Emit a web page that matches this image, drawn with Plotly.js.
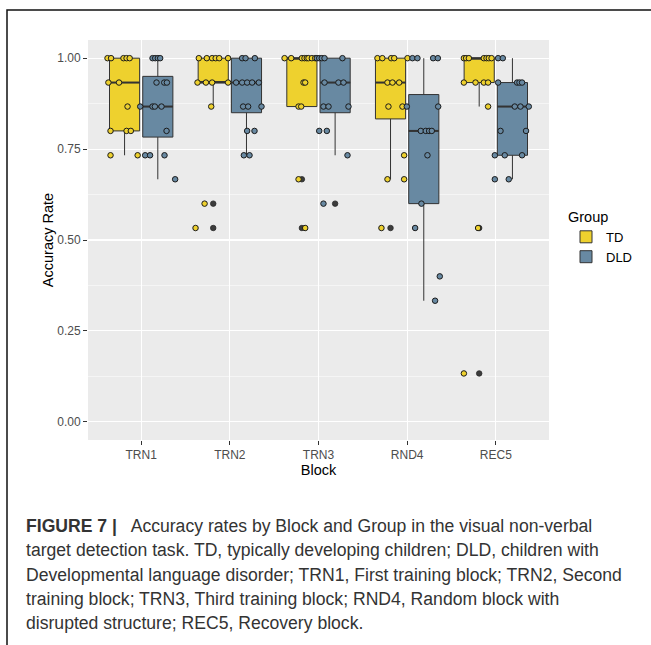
<!DOCTYPE html>
<html>
<head>
<meta charset="utf-8">
<script src="https://cdn.plot.ly/plotly-3.0.1.min.js"></script>
<style>
html,body{margin:0;padding:0;background:#fff;}
#chart{width:651px;height:645px;}
</style>
</head>
<body>
<div id="chart"></div>
<script>
// ---------- DATA ----------
var blocks = ['TRN1', 'TRN2', 'TRN3', 'RND4', 'REC5'];
var groups = ['TD', 'DLD'];

// box statistics per block
var tdQ1     = [0.800, 0.933, 0.867, 0.833, 0.933];
var tdMedian = [0.933, 0.933, 1.000, 0.933, 1.000];
var tdQ3     = [1.000, 1.000, 1.000, 1.000, 1.000];
var tdLow    = [0.733, 0.867, 0.867, 0.667, 0.867];
var tdHigh   = [1.000, 1.000, 1.000, 1.000, 1.000];

var dldQ1     = [0.783, 0.850, 0.850, 0.600, 0.733];
var dldMedian = [0.867, 0.933, 0.933, 0.800, 0.867];
var dldQ3     = [0.950, 1.000, 1.000, 0.900, 0.933];
var dldLow    = [0.667, 0.733, 0.733, 0.333, 0.667];
var dldHigh   = [1.000, 1.000, 1.000, 1.000, 1.000];

// boxplot outliers (group index, block index, value)
var outGroup = [0, 0, 0, 0, 0, 0, 0, 1];
var outBlock = [1, 1, 2, 2, 3, 4, 4, 2];
var outValue = [0.600, 0.533, 0.667, 0.533, 0.533, 0.533, 0.133, 0.600];

// individual (jittered) observations: block index, horizontal jitter, value
var tdBlock = [0,0,0,0,0, 0,0, 0, 0,0,0, 0,0,
               1,1,1,1,1,1, 1,1,1,1, 1, 1, 1,
               2,2,2,2,2,2,2,2, 2,2, 2,2, 2, 2,
               3,3,3,3,3, 3,3,3, 3,3, 3, 3,3, 3,
               4,4,4,4,4,4,4, 4,4,4,4, 4, 4, 4];
var tdJitter = [-0.38,-0.34,-0.20,-0.165,-0.13, -0.37,-0.25, -0.154, -0.346,-0.165,-0.117, -0.346,-0.04,
                -0.35,-0.26,-0.20,-0.16,-0.12,-0.02, -0.365,-0.27,-0.20,-0.02, -0.21, -0.285, -0.387,
                -0.383,-0.308,-0.188,-0.158,-0.132,-0.113,-0.075,-0.037, -0.169,-0.15, -0.225,-0.195, -0.225, -0.15,
                -0.335,-0.28,-0.18,-0.146,0.004, -0.222,-0.166,-0.09, -0.211,-0.053, -0.034, -0.222,-0.034, -0.29,
                -0.36,-0.335,-0.304,-0.135,-0.105,-0.079,-0.048, -0.36,-0.229,-0.135,-0.087, -0.087, -0.20, -0.36];
var tdValue = [1,1,1,1,1, 0.933,0.933, 0.867, 0.8,0.8,0.8, 0.733,0.733,
               1,1,1,1,1,1, 0.933,0.933,0.933,0.933, 0.867, 0.6, 0.533,
               1,1,1,1,1,1,1,1, 0.933,0.933, 0.867,0.867, 0.667, 0.533,
               1,1,1,1,1, 0.933,0.933,0.933, 0.867,0.867, 0.733, 0.667,0.667, 0.533,
               1,1,1,1,1,1,1, 0.933,0.933,0.933,0.933, 0.867, 0.533, 0.133];

var dldBlock = [0,0,0,0, 0,0,0, 0,0,0,0, 0, 0,0,0, 0,
                1,1,1, 1,1,1,1,1, 1,1,1, 1,1, 1,1,
                2,2,2,2,2, 2,2,2, 2,2,2, 2,2, 2, 2,
                3,3,3,3, 3,3, 3,3,3,3, 3, 3, 3, 3, 3,
                4,4, 4,4,4,4, 4,4,4, 4,4, 4,4,4, 4,4];
var dldJitter = [0.128,0.158,0.188,0.214, 0.173,0.26,0.29, -0.011,0.128,0.154,0.229, 0.286, 0.045,0.10,0.263, 0.383,
                 0.139,0.177,0.282, 0.071,0.139,0.195,0.251,0.327, 0.15,0.206,0.357, 0.195,0.278, 0.158,0.222,
                 -0.019,0.008,0.037,0.068,0.27, 0.068,0.225,0.282, 0.056,0.113,0.338, 0.008,0.094, 0.327, 0.056,
                 0.06,0.116,0.293,0.346, -0.004,0.35, 0.154,0.21,0.248,0.278, 0.229, 0.161, 0.09, 0.368, 0.315,
                 0.026,0.079, 0.026,0.24,0.267,0.296, 0.214,0.278,0.372, 0.053,0.341, -0.011,0.101,0.296, -0.011,0.146];
var dldValue = [1,1,1,1, 0.933,0.933,0.933, 0.867,0.867,0.867,0.867, 0.8, 0.733,0.733,0.733, 0.667,
                1,1,1, 0.933,0.933,0.933,0.933,0.933, 0.867,0.867,0.867, 0.8,0.8, 0.733,0.733,
                1,1,1,1,1, 0.933,0.933,0.933, 0.867,0.867,0.867, 0.8,0.8, 0.733, 0.6,
                1,1,1,1, 0.867,0.867, 0.8,0.8,0.8,0.8, 0.733, 0.6, 0.533, 0.4, 0.333,
                1,1, 0.933,0.933,0.933,0.933, 0.867,0.867,0.867, 0.8,0.8, 0.733,0.733,0.733, 0.667,0.667];

var yTickVals = [0, 0.25, 0.5, 0.75, 1];
var yTickText = ['0.00', '0.25', '0.50', '0.75', '1.00'];

var captionLines = [
  '<b>FIGURE 7 |</b>\u00A0\u00A0 Accuracy rates by Block and Group in the visual non-verbal',
  'target detection task. TD, typically developing children; DLD, children with',
  'Developmental language disorder; TRN1, First training block; TRN2, Second',
  'training block; TRN3, Third training block; RND4, Random block with',
  'disrupted structure; REC5, Recovery block.'
];

// ---------- STYLE / LAYOUT ----------
var W = 651, H = 645;
var mL = 88, mR = 102, mT = 40, mB = 205;
var plotW = W - mL - mR, plotH = H - mT - mB;
function px2x(px) { return (px - mL) / plotW; }
function py2y(py) { return (H - mB - py) / plotH; }

var dodge = 0.1875;
var boxWidth = 0.34;
var fillTD = '#EED12E', fillDLD = '#6889A2';
var lineCol = '#333333';
var FONT = 'Liberation Sans, Arial, sans-serif';

function idx() { return blocks.map(function (b, i) { return i; }); }

var traces = [];
traces.push({
  type: 'box', name: groups[0],
  x: idx().map(function (i) { return i - dodge; }),
  q1: tdQ1, median: tdMedian, q3: tdQ3, lowerfence: tdLow, upperfence: tdHigh,
  width: boxWidth, whiskerwidth: 0, boxpoints: false,
  fillcolor: fillTD, line: { color: lineCol, width: 1 },
  hoverinfo: 'skip'
});
traces.push({
  type: 'box', name: groups[1],
  x: idx().map(function (i) { return i + dodge; }),
  q1: dldQ1, median: dldMedian, q3: dldQ3, lowerfence: dldLow, upperfence: dldHigh,
  width: boxWidth, whiskerwidth: 0, boxpoints: false,
  fillcolor: fillDLD, line: { color: lineCol, width: 1 },
  hoverinfo: 'skip'
});

// thicker median bars (ggplot style)
function medianSegments(med, sign) {
  var xs = [], ys = [];
  med.forEach(function (m, i) {
    var c = i + sign * dodge;
    xs.push(c - boxWidth / 2, c + boxWidth / 2, null);
    ys.push(m, m, null);
  });
  return { x: xs, y: ys };
}
var mTD = medianSegments(tdMedian, -1), mDLD = medianSegments(dldMedian, 1);
traces.push({ type: 'scatter', mode: 'lines', showlegend: false, hoverinfo: 'skip',
  x: mTD.x, y: mTD.y, line: { color: lineCol, width: 2 } });
traces.push({ type: 'scatter', mode: 'lines', showlegend: false, hoverinfo: 'skip',
  x: mDLD.x, y: mDLD.y, line: { color: lineCol, width: 2 } });

// outliers at the box centre
traces.push({
  type: 'scatter', mode: 'markers', showlegend: false, hoverinfo: 'skip',
  x: outBlock.map(function (b, i) { return b + (outGroup[i] === 0 ? -dodge : dodge); }),
  y: outValue,
  marker: { size: 5.5, color: '#3c3c3c', line: { color: '#2a2a2a', width: 0.8 } }
});
// jittered observations
traces.push({
  type: 'scatter', mode: 'markers', showlegend: false, hoverinfo: 'skip',
  x: tdBlock.map(function (b, i) { return b + tdJitter[i]; }),
  y: tdValue,
  marker: { size: 5.5, color: fillTD, line: { color: '#1a1a1a', width: 1 } }
});
traces.push({
  type: 'scatter', mode: 'markers', showlegend: false, hoverinfo: 'skip',
  x: dldBlock.map(function (b, i) { return b + dldJitter[i]; }),
  y: dldValue,
  marker: { size: 5.5, color: fillDLD, line: { color: '#1a1a1a', width: 1 } }
});

var annotations = captionLines.map(function (t, i) {
  return {
    text: t, xref: 'paper', yref: 'paper', showarrow: false,
    x: px2x(24), y: py2y(526 + i * 24.3), xanchor: 'left', yanchor: 'middle',
    font: { family: FONT, size: 17.6, color: '#333333' }
  };
});

var layout = {
  width: W, height: H,
  margin: { l: mL, r: mR, t: mT, b: mB, pad: 0 },
  paper_bgcolor: '#ffffff', plot_bgcolor: '#EBEBEB',
  font: { family: FONT },
  showlegend: true,
  boxmode: 'overlay',
  xaxis: {
    type: 'linear', range: [-0.6, 4.6], tickmode: 'array',
    tickvals: idx(), ticktext: blocks,
    showgrid: true, gridcolor: '#ffffff', gridwidth: 1.1,
    zeroline: false, showline: false,
    ticks: 'outside', ticklen: 4, tickwidth: 1, tickcolor: '#333333',
    tickfont: { family: FONT, size: 12, color: '#4D4D4D' },
    title: { text: 'Block', font: { family: FONT, size: 14.5, color: '#000000' }, standoff: 3 },
    automargin: false
  },
  yaxis: {
    range: [-0.05, 1.05], tickmode: 'array',
    tickvals: yTickVals, ticktext: yTickText,
    showgrid: true, gridcolor: '#ffffff', gridwidth: 1.1,
    zeroline: false, showline: false,
    ticks: 'outside', ticklen: 4, tickwidth: 1, tickcolor: '#333333',
    tickfont: { family: FONT, size: 12, color: '#4D4D4D' },
    minor: { tickvals: [0.125, 0.375, 0.625, 0.875], showgrid: true, gridcolor: '#ffffff', gridwidth: 0.5, ticks: '' },
    title: { text: 'Accuracy Rate', font: { family: FONT, size: 14.5, color: '#000000' }, standoff: 0 },
    automargin: false
  },
  legend: {
    x: px2x(566), y: py2y(203), xanchor: 'left', yanchor: 'top',
    bgcolor: 'rgba(0,0,0,0)',
    title: { text: 'Group', font: { family: FONT, size: 14.5, color: '#000000' } },
    font: { family: FONT, size: 13, color: '#000000' },
    traceorder: 'normal'
  },
  annotations: annotations,
  shapes: [{
    type: 'path', xref: 'paper', yref: 'paper',
    path: 'M ' + px2x(7) + ' ' + py2y(648) + ' L ' + px2x(7) + ' ' + py2y(10) + ' L ' + px2x(655) + ' ' + py2y(10),
    line: { color: '#111111', width: 1.5 }
  }]
};

Plotly.newPlot('chart', traces, layout, { displayModeBar: false, staticPlot: true });
</script>
</body>
</html>
